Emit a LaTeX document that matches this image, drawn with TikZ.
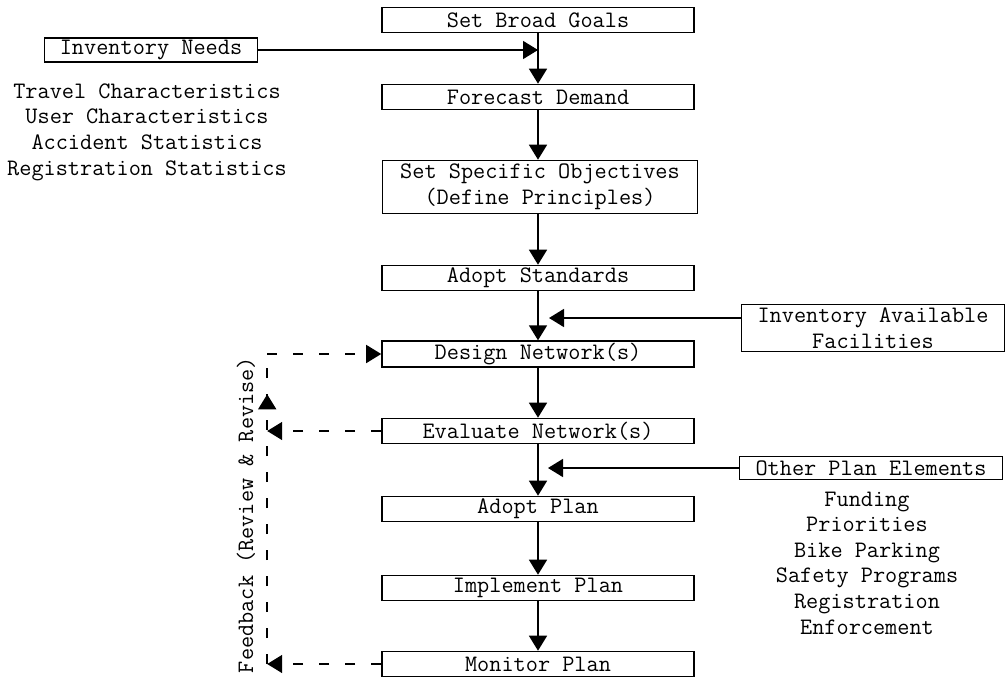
\documentclass[tikz,border=0pt]{standalone}
\usepackage{fontspec}
\usetikzlibrary{arrows.meta,decorations.markings}

\tikzset{
  stepbox/.style={draw, line width=1.6pt, minimum width=312pt, minimum height=25pt, inner sep=2pt, align=center},
  sidebox/.style={draw, line width=1.6pt, inner sep=2pt, align=center},
  flow/.style={line width=1.6pt, -{Triangle[length=15pt,width=18pt]}},
  feedback/.style={line width=1.6pt, dash pattern=on 10pt off 16pt},
  uptip/.style={postaction={decorate, decoration={markings,
      mark=at position 0.87 with {\arrow{Triangle[length=15pt,width=18pt]}}}}}
}

\begin{document}
\begin{tikzpicture}[x=1pt, y=-1pt,
    font=\ttfamily\addfontfeatures{FakeBold=1.2}\fontsize{23.6}{25.6}\selectfont]
  \fill[white] (0,0) rectangle (1008,680);
  \useasboundingbox (0,0) rectangle (1008,680);

  % main column
  \node[stepbox] (goals) at (538,20) {Set Broad Goals};
  \node[stepbox] (forecast) at (538,97) {Forecast Demand};
  \node[stepbox, minimum width=315pt, minimum height=53pt] (objectives) at (540,187)
    {Set Specific Objectives\\(Define Principles)};
  \node[stepbox] (standards) at (538,278) {Adopt Standards};
  \node[stepbox] (design) at (538,354) {Design Network(s)};
  \node[stepbox] (evaluate) at (538,431) {Evaluate Network(s)};
  \node[stepbox] (adoptplan) at (538,509) {Adopt Plan};
  \node[stepbox] (implement) at (538,588) {Implement Plan};
  \node[stepbox] (monitor) at (538,664) {Monitor Plan};

  % side inputs
  \node[sidebox, minimum width=213pt, minimum height=21pt] (needs) at (151,50) {Inventory Needs};
  \node[align=center] (needlist) at (147,132)
    {Travel Characteristics\\User Characteristics\\Accident Statistics\\Registration Statistics};
  \node[sidebox, minimum width=263pt, minimum height=47pt] (facilities) at (873,328)
    {Inventory Available\\Facilities};
  \node[sidebox, minimum width=263pt, minimum height=23pt] (others) at (871,468) {Other Plan Elements};
  \node[align=center] (otherlist) at (867,563)
    {Funding\\Priorities\\Bike Parking\\Safety Programs\\Registration\\Enforcement};

  % flow arrows
  \draw[flow] (goals) -- (forecast);
  \draw[flow] (forecast) -- (forecast |- objectives.north);
  \draw[flow] (forecast |- objectives.south) -- (standards);
  \draw[flow] (standards) -- (design);
  \draw[flow] (design) -- (evaluate);
  \draw[flow] (evaluate) -- (adoptplan);
  \draw[flow] (adoptplan) -- (implement);
  \draw[flow] (implement) -- (monitor);

  \draw[flow] (needs.east) -- (needs.east -| goals.south);
  \coordinate (facin) at ([yshift=10pt]facilities.west);
  \draw[flow, shorten >=11pt] (facin) -- (facin -| design.north);
  \draw[flow, shorten >=10pt] (others.west) -- (others.west -| adoptplan.north);

  % feedback loop
  \coordinate (fbtop) at ([xshift=-114pt]design.west);
  \coordinate (fbbot) at (fbtop |- monitor.west);
  \draw[feedback, uptip] (fbbot) -- (fbtop);
  \draw[feedback, -{Triangle[length=15pt,width=18pt]}] (fbtop) -- (design.west);
  \draw[feedback, -{Triangle[length=15pt,width=18pt]}] (evaluate.west) -- (evaluate.west -| fbtop);
  \draw[feedback, -{Triangle[length=15pt,width=18pt]}] (monitor.west) -- (monitor.west -| fbtop);
  \node[rotate=90] (fblabel) at (246,515) {Feedback (Review \& Revise)};
\end{tikzpicture}
\end{document}
